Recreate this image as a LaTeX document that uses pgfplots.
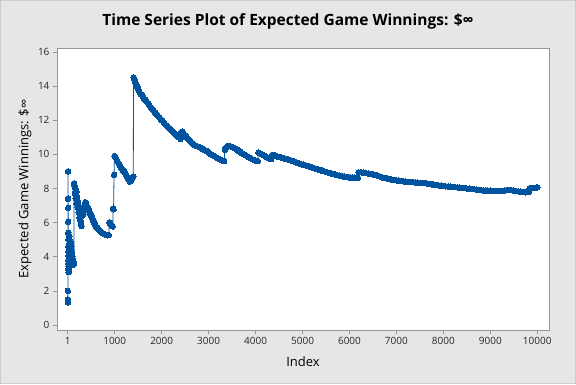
\documentclass[border=0pt]{standalone}
\usepackage{pgfplots}
\pgfplotsset{compat=1.18}
\usepackage{fontspec}
\setmainfont{Open Sans}
\definecolor{bg}{RGB}{230,230,230}
\definecolor{bgedge}{RGB}{205,205,205}
\definecolor{mtblue}{RGB}{0,84,159}
\definecolor{axgray}{RGB}{150,150,150}
\begin{document}
\begin{tikzpicture}[x=1pt,y=1pt]
\fill[bg] (0,0) rectangle (576,384);
\draw[bgedge, line width=1pt] (0.5,0.5) rectangle (575.5,383.5);
\begin{axis}[
  at={(57pt,54pt)}, anchor=south west,
  width=492pt, height=282pt, scale only axis,
  xmin=-230, xmax=10250, ymin=-0.29, ymax=16.23,
  axis background/.style={fill=white},
  axis line style={axgray, line width=0.9pt},
  xtick={1,1000,2000,3000,4000,5000,6000,7000,8000,9000,10000},
  xticklabels={1,1000,2000,3000,4000,5000,6000,7000,8000,9000,10000},
  ytick={0,2,4,6,8,10,12,14,16},
  tick align=outside, tick pos=lower,
  major tick length=4pt,
  tick style={axgray, line width=0.8pt},
  /pgf/number format/assume math mode=true,
  tick label style={font=\fontsize{10}{12}\selectfont, text=black!85},
  scaled x ticks=false,
  title={Time Series Plot of Expected Game Winnings: \$∞},
  title style={font=\fontsize{15.5}{18}\selectfont\bfseries, at={(axis description cs:0.4695,1.058)}, anchor=base},
  xlabel={Index},
  xlabel style={font=\fontsize{13}{15}\selectfont, at={(axis description cs:0.5,-0.129)}, anchor=base},
  ylabel={Expected Game Winnings: \$∞},
  ylabel style={font=\fontsize{13}{15}\selectfont, at={(axis description cs:-0.0583,0.5)}, anchor=base, rotate=0},
]
\addplot[mtblue, line width=0.8pt, mark=*, mark size=2.8pt, mark options={fill=mtblue, draw=mtblue, line width=0pt}] table {
x y
1 2.0
2 1.5
3 1.4
4 1.33
5 9.0
6 7.4
7 6.86
8 6.05
9 5.4
10 5.0
11 4.6
12 4.3
13 4.05
14 3.8
15 3.6
16 3.45
17 3.3
18 3.2
20 3.1
22 3.6
25 3.4
28 4.3
31 4.1
34 5.2
38 5.0
42 4.8
46 4.6
50 4.4
55 4.2
60 4.05
65 3.9
70 4.8
75 4.6
80 4.45
85 4.3
90 4.15
95 4.0
100 3.9
105 3.8
110 3.7
115 3.6
120 3.55
125 3.7
130 3.65
135 8.3
140 8.2
150 7.7
160 8.0
170 7.4
180 7.8
190 7.1
200 7.5
210 6.9
220 7.2
230 6.6
240 6.9
250 6.3
260 6.5
270 6.1
280 5.95
290 5.8
300 6.4
315 6.6
330 6.5
345 6.8
360 7.0
375 7.2
390 7.15
405 7.0
420 6.9
440 6.8
460 6.65
480 6.5
500 6.4
520 6.25
540 6.1
560 6.0
580 5.9
600 5.8
625 5.7
650 5.62
675 5.55
700 5.48
725 5.43
750 5.38
775 5.33
800 5.3
825 5.27
850 5.26
875 5.27
885 6.02
900 5.96
915 5.9
930 5.85
945 5.8
958 5.78
965 6.82
975 6.78
985 8.8
995 9.9
1005 9.87
1020 9.8
1040 9.7
1060 9.58
1080 9.48
1100 9.38
1120 9.3
1140 9.2
1160 9.12
1180 9.05
1200 8.97
1220 8.9
1240 8.8
1260 8.7
1280 8.6
1300 8.5
1320 8.4
1340 8.42
1360 8.52
1380 8.62
1395 8.7
1400 14.52
1420 14.4
1440 14.2
1460 14.05
1480 13.95
1500 13.82
1530 13.65
1560 13.5
1590 13.42
1620 13.3
1650 13.2
1680 13.1
1710 13.0
1740 12.85
1770 12.75
1800 12.65
1830 12.55
1860 12.45
1890 12.33
1920 12.25
1950 12.15
1980 12.07
2010 11.98
2040 11.88
2070 11.78
2100 11.7
2130 11.62
2160 11.54
2190 11.46
2220 11.38
2250 11.3
2280 11.22
2310 11.14
2340 11.06
2370 10.98
2400 10.9
2415 11.3
2440 11.33
2470 11.22
2500 11.12
2530 11.02
2560 10.92
2590 10.83
2620 10.75
2650 10.66
2680 10.58
2710 10.53
2740 10.49
2770 10.46
2800 10.43
2830 10.38
2860 10.33
2890 10.28
2920 10.23
2950 10.2
2980 10.16
3010 10.08
3040 10.02
3070 9.97
3100 9.93
3130 9.88
3160 9.83
3190 9.78
3220 9.73
3250 9.69
3280 9.65
3310 9.62
3330 9.6
3345 10.26
3370 10.4
3400 10.48
3430 10.5
3460 10.48
3490 10.44
3520 10.4
3550 10.36
3580 10.32
3610 10.26
3640 10.2
3670 10.14
3700 10.08
3740 10.02
3780 9.96
3820 9.9
3860 9.83
3900 9.77
3940 9.71
3980 9.66
4020 9.62
4045 9.6
4060 10.1
4090 10.06
4120 10.02
4150 9.98
4180 9.93
4210 9.88
4240 9.83
4270 9.78
4300 9.74
4330 9.72
4350 9.96
4380 9.97
4420 9.93
4460 9.88
4500 9.85
4540 9.82
4580 9.78
4620 9.75
4660 9.72
4700 9.69
4740 9.66
4780 9.62
4820 9.58
4860 9.53
4900 9.5
4940 9.46
4980 9.42
5020 9.39
5060 9.36
5100 9.32
5140 9.29
5180 9.25
5220 9.22
5260 9.18
5300 9.15
5340 9.11
5380 9.08
5420 9.04
5460 9.01
5500 8.97
5540 8.94
5580 8.9
5620 8.87
5660 8.84
5700 8.81
5740 8.78
5780 8.76
5820 8.73
5860 8.71
5900 8.69
5940 8.67
5980 8.66
6020 8.65
6060 8.64
6100 8.63
6140 8.62
6180 8.62
6195 8.95
6250 8.95
6300 8.93
6350 8.9
6400 8.88
6450 8.86
6500 8.83
6550 8.79
6600 8.75
6650 8.7
6700 8.65
6750 8.62
6800 8.59
6850 8.55
6900 8.52
6950 8.5
7000 8.48
7050 8.46
7100 8.44
7150 8.42
7200 8.4
7250 8.39
7300 8.38
7350 8.37
7400 8.35
7450 8.34
7500 8.33
7550 8.32
7600 8.31
7650 8.3
7700 8.27
7750 8.25
7800 8.22
7850 8.2
7900 8.18
7950 8.17
8000 8.15
8050 8.13
8100 8.12
8150 8.1
8200 8.09
8250 8.08
8300 8.07
8350 8.05
8400 8.03
8450 8.02
8500 8.0
8550 7.99
8600 7.97
8650 7.96
8700 7.94
8750 7.92
8800 7.91
8850 7.89
8900 7.88
8950 7.87
9000 7.87
9050 7.86
9100 7.86
9150 7.85
9200 7.85
9250 7.86
9300 7.88
9350 7.9
9400 7.91
9450 7.9
9500 7.88
9550 7.85
9600 7.83
9650 7.82
9700 7.8
9750 7.78
9800 7.79
9825 7.8
9835 8.0
9875 8.03
9925 8.04
9975 8.05
10000 8.06
};
\end{axis}
\end{tikzpicture}
\end{document}
